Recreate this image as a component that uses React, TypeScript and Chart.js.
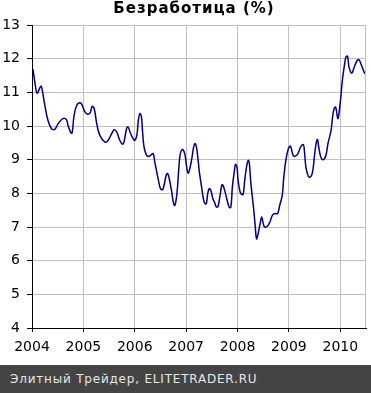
import React, { useEffect, useRef } from "react";
import { Chart, registerables } from "chart.js";

Chart.register(...registerables);

const TITLE = "Безработица (%)";
const FOOTER = "Элитный Трейдер, ELITETRADER.RU";

const yearTicks = [2004, 2005, 2006, 2007, 2008, 2009, 2010];
const yTicks = [4, 5, 6, 7, 8, 9, 10, 11, 12, 13];

// decimal-year dates of the readings
const dates = [
  2004.02, 2004.06, 2004.10, 2004.17, 2004.19, 2004.25, 2004.31, 2004.38, 2004.44, 2004.51,
  2004.60, 2004.67, 2004.70, 2004.75, 2004.78, 2004.82, 2004.88, 2004.95, 2005.03, 2005.08,
  2005.13, 2005.17, 2005.21, 2005.26, 2005.32, 2005.42, 2005.48, 2005.55, 2005.60, 2005.65,
  2005.71, 2005.76, 2005.79, 2005.84, 2005.87, 2005.92, 2005.97, 2006.00, 2006.04, 2006.07,
  2006.10, 2006.13, 2006.15, 2006.18, 2006.23, 2006.28, 2006.33, 2006.36, 2006.39, 2006.46,
  2006.50, 2006.54, 2006.57, 2006.61, 2006.64, 2006.67, 2006.72, 2006.75, 2006.78, 2006.82,
  2006.85, 2006.88, 2006.91, 2006.94, 2006.98, 2007.01, 2007.04, 2007.07, 2007.11, 2007.14,
  2007.17, 2007.20, 2007.24, 2007.26, 2007.30, 2007.35, 2007.39, 2007.42, 2007.45, 2007.48,
  2007.52, 2007.55, 2007.59, 2007.62, 2007.66, 2007.70, 2007.74, 2007.79, 2007.84, 2007.87,
  2007.90, 2007.94, 2007.96, 2007.99, 2008.01, 2008.05, 2008.08, 2008.11, 2008.14, 2008.18,
  2008.21, 2008.23, 2008.26, 2008.31, 2008.34, 2008.37, 2008.40, 2008.44, 2008.47, 2008.50,
  2008.53, 2008.58, 2008.63, 2008.68, 2008.73, 2008.78, 2008.82, 2008.87, 2008.90, 2008.94,
  2008.99, 2009.03, 2009.07, 2009.10, 2009.15, 2009.19, 2009.23, 2009.28, 2009.30, 2009.33,
  2009.36, 2009.39, 2009.44, 2009.47, 2009.51, 2009.55, 2009.58, 2009.62, 2009.67, 2009.72,
  2009.76, 2009.82, 2009.85, 2009.88, 2009.91, 2009.95, 2009.97, 2010.01, 2010.04, 2010.08,
  2010.11, 2010.14, 2010.17, 2010.22, 2010.26, 2010.32, 2010.36, 2010.40, 2010.45, 2010.48,
];

// unemployment, %
const unemployment = [
  11.68, 11.26, 10.98, 11.18, 11.14, 10.61, 10.17, 9.92, 9.90, 10.07,
  10.22, 10.19, 10.02, 9.82, 9.79, 10.32, 10.64, 10.68, 10.42, 10.35,
  10.39, 10.58, 10.52, 10.07, 9.72, 9.52, 9.57, 9.77, 9.89, 9.82,
  9.57, 9.46, 9.52, 9.92, 9.97, 9.77, 9.62, 9.57, 9.72, 10.17,
  10.37, 10.27, 9.87, 9.38, 9.13, 9.10, 9.16, 9.18, 8.93, 8.39,
  8.14, 8.11, 8.24, 8.53, 8.59, 8.44, 8.04, 7.74, 7.64, 7.99,
  8.59, 9.13, 9.28, 9.30, 9.13, 8.78, 8.60, 8.73, 9.03, 9.33,
  9.48, 9.38, 8.88, 8.60, 8.19, 7.74, 7.69, 7.99, 8.14, 8.09,
  7.84, 7.74, 7.59, 7.61, 7.94, 8.26, 8.14, 7.84, 7.58, 7.59,
  8.19, 8.68, 8.86, 8.78, 8.39, 8.04, 7.97, 7.97, 8.39, 8.83,
  8.98, 8.88, 8.29, 7.59, 7.10, 6.65, 6.80, 7.10, 7.30, 7.10,
  7.00, 7.02, 7.15, 7.35, 7.40, 7.40, 7.64, 7.94, 8.48, 8.98,
  9.33, 9.40, 9.18, 9.10, 9.13, 9.23, 9.38, 9.45, 9.28, 8.78,
  8.59, 8.48, 8.53, 8.73, 9.28, 9.60, 9.38, 9.08, 9.00, 9.13,
  9.48, 9.87, 10.27, 10.52, 10.56, 10.22, 10.32, 10.86, 11.36, 11.80,
  12.05, 12.07, 11.75, 11.57, 11.70, 11.93, 11.97, 11.85, 11.65, 11.55,
];

const FONT = "'DejaVu Sans', Verdana, sans-serif";

const decorPlugin = {
  id: "decor",
  afterDraw(chart: any) {
    const { ctx, chartArea } = chart;
    ctx.save();
    ctx.strokeStyle = "#c0c0c0";
    ctx.lineWidth = 1;
    ctx.beginPath();
    ctx.moveTo(Math.round(chartArea.right) - 0.5, chartArea.top);
    ctx.lineTo(Math.round(chartArea.right) - 0.5, chartArea.bottom);
    ctx.stroke();
    ctx.fillStyle = "#000";
    ctx.font = `bold 15px ${FONT}`;
    try {
      (ctx as any).letterSpacing = "1px";
    } catch (e) {}
    ctx.textAlign = "center";
    ctx.textBaseline = "middle";
    ctx.fillText(TITLE, 194, 9);
    ctx.restore();
  },
};

export default function App() {
  const ref = useRef<HTMLCanvasElement>(null);

  useEffect(() => {
    if (!ref.current) return;
    const chart = new Chart(ref.current, {
      type: "line",
      data: {
        datasets: [
          {
            data: dates.map((d, i) => ({ x: d, y: unemployment[i] })),
            borderColor: "#000080",
            borderWidth: 1.5,
            pointRadius: 0,
            tension: 0.4,
            fill: false,
          },
        ],
      },
      options: {
        animation: false,
        responsive: false,
        devicePixelRatio: 1,
        layout: { padding: { top: 25, right: 5, left: 0, bottom: 0 } },
        plugins: {
          legend: { display: false },
          title: { display: false },
          tooltip: { enabled: false },
        },
        scales: {
          x: {
            type: "linear",
            min: 2004,
            max: 2010.5,
            afterBuildTicks: (s: any) => {
              s.ticks = yearTicks.map((v) => ({ value: v }));
            },
            afterFit: (s: any) => {
              s.height = 37;
            },
            grid: { color: "#c0c0c0", tickColor: "#000", tickLength: 4, lineWidth: 1 },
            border: { color: "#000", width: 1 },
            ticks: {
              color: "#000",
              font: { family: FONT, size: 14 },
              padding: 7,
              maxRotation: 0,
              autoSkip: false,
              callback: (v: any) => String(v),
            },
          },
          y: {
            min: 4,
            max: 13,
            afterBuildTicks: (s: any) => {
              s.ticks = yTicks.map((v) => ({ value: v }));
            },
            afterFit: (s: any) => {
              s.width = 32;
            },
            grid: { color: "#c0c0c0", tickColor: "#000", tickLength: 5, lineWidth: 1 },
            border: { color: "#000", width: 1 },
            ticks: {
              color: "#000",
              font: { family: FONT, size: 14 },
              padding: 7,
              callback: (v: any) => String(v),
            },
          },
        },
      },
      plugins: [decorPlugin],
    });
    return () => chart.destroy();
  }, []);

  return (
    <div style={{ position: "absolute", left: 0, top: 0, width: 371, height: 393, background: "#fff" }}>
      <canvas ref={ref} width={371} height={365} style={{ display: "block" }} />
      <div
        style={{
          height: 28,
          background: "#444444",
          color: "#e8e8e8",
          fontFamily: FONT,
          fontSize: 12,
          letterSpacing: "0.8px",
          lineHeight: "28px",
          paddingLeft: 10,
          whiteSpace: "nowrap",
        }}
      >
        {FOOTER}
      </div>
    </div>
  );
}
